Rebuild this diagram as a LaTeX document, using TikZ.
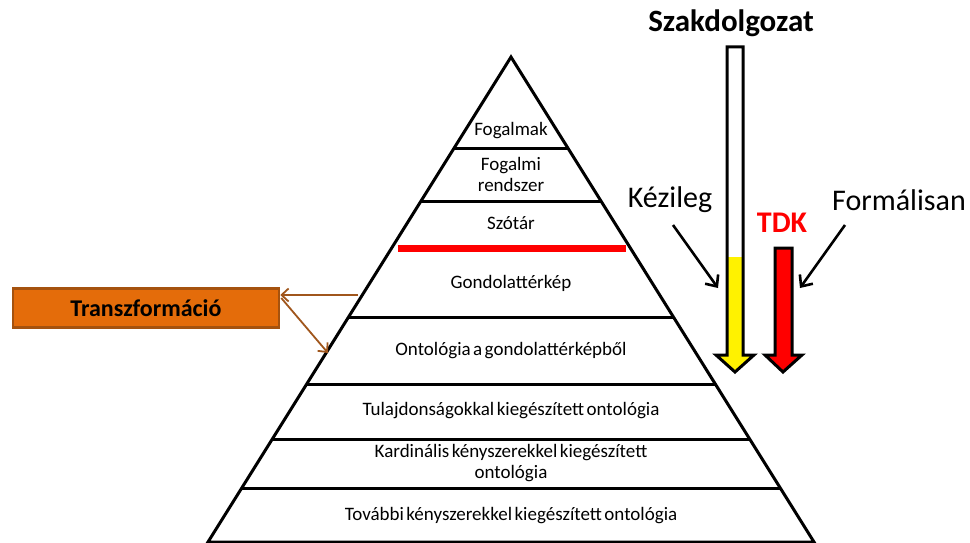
\documentclass[tikz,border=0pt]{standalone}
\usepackage{fontspec}
\setmainfont{Carlito}
\usetikzlibrary{arrows.meta,calc}
\definecolor{boxfill}{HTML}{E46C0A}
\definecolor{boxedge}{HTML}{A5520E}
\definecolor{linkbrown}{HTML}{A0561C}
\definecolor{tdkred}{HTML}{FF0000}
\newcommand{\tightwords}{\spaceskip=0.13em plus 0.02em\relax}
\begin{document}
\begin{tikzpicture}[x=1pt,y=-1pt,
  lvl/.style={font=\fontsize{19}{21}\selectfont\tightwords, align=center, inner sep=0pt},
  bigtxt/.style={font=\fontsize{30}{32}\selectfont, inner sep=0pt},
  layer/.style={line width=3pt, black},
  pointer/.style={line width=2.6pt, black, -{Straight Barb[length=9pt,width=16pt,line width=2.6pt]}},
  link/.style={line width=1.8pt, linkbrown, -{Straight Barb[length=7pt,width=13pt,line width=1.8pt]}},
  blockarrow/.style={line width=3pt, black, line join=miter}
]
\useasboundingbox (0,0) rectangle (970,543);

% pyramid outline
\coordinate (apex) at (511,57);
\coordinate (bl) at (208,542);
\coordinate (br) at (814,542);
\draw[layer, line join=miter] (bl) -- (apex) -- (br) -- cycle;

% layer boundaries (fraction of the height from the apex)
\foreach \y/\n in {149/a,202/b,318/c,384/d,439/e,488/f}{
  \pgfmathsetmacro{\t}{(\y-57)/485}
  \coordinate (L\n) at ($(apex)!\t!(bl)$);
  \coordinate (R\n) at ($(apex)!\t!(br)$);
  \draw[layer] (L\n) -- (R\n);
}
% red boundary under the dictionary layer
\pgfmathsetmacro{\tr}{(248-57)/485}
\coordinate (Lr) at ($(apex)!\tr!(bl)+(6,0)$);
\coordinate (Rr) at ($(apex)!\tr!(br)+(-4,0)$);
\draw[line width=7pt, tdkred] (Lr) -- (Rr);

% layer labels
\node[lvl] (fogalmak) at (511,131) {Fogalmak};
\node[lvl] (rendszer) at (511,174) {Fogalmi\\rendszer};
\node[lvl] (szotar) at (511,223) {Szótár};
\node[lvl] (gondolat) at (511,283) {Gondolattérkép};
\node[lvl] (onto) at (511,351) {Ontológia a gondolattérképből};
\node[lvl] (tulaj) at (511,411) {Tulajdonságokkal kiegészített ontológia};
\node[lvl] (kard) at (511,463) {Kardinális kényszerekkel kiegészített\\ontológia};
\node[lvl] (tovabbi) at (511,516) {További kényszerekkel kiegészített ontológia};

% transformation box and its links
\node[draw=boxedge, fill=boxfill, line width=2.5pt, minimum width=266pt, minimum height=39pt,
      font=\fontsize{24}{26}\selectfont\bfseries, inner sep=0pt] (transz) at (146,308) {Transzformáció};
\coordinate (gsrc) at (358,295);
\coordinate (otgt) at (328,353);
\draw[link] (gsrc) -- (transz.east |- gsrc);
\draw[link] ($(transz.east)+(1,-10)$) -- (otgt);

% thesis column: white shaft with yellow filled lower part
\node[font=\fontsize{31}{33}\selectfont\bfseries, inner sep=0pt] (szak) at (731,23) {Szakdolgozat};
\fill[white] (727,47) rectangle (743,257);
\fill[yellow] (727,257) -- (743,257) -- (743,355) -- (754,355) -- (735,372) -- (716,355) -- (727,355) -- cycle;
\draw[blockarrow] (727,47) -- (743,47) -- (743,355) -- (754,355) -- (735,372) -- (716,355) -- (727,355) -- cycle;
\coordinate (kezend) at (718,288);

% TDK arrow
\node[font=\fontsize{30}{32}\selectfont\bfseries, text=tdkred, inner sep=0pt] (tdk) at (782,223) {TDK};
\draw[blockarrow, fill=tdkred] (775,248) -- (792,248) -- (792,355) -- (802,355) -- (783,372) -- (765,355) -- (775,355) -- cycle;
\coordinate (formend) at (800,288);

% method labels with pointers
\node[bigtxt] (kezileg) at (670,200) {Kézileg};
\node[bigtxt] (formal) at (899,200) {Formálisan};
\coordinate (kezstart) at (673,225);
\coordinate (formstart) at (845,225);
\draw[pointer] (kezstart) -- (kezend);
\draw[pointer] (formstart) -- (formend);
\end{tikzpicture}
\end{document}
